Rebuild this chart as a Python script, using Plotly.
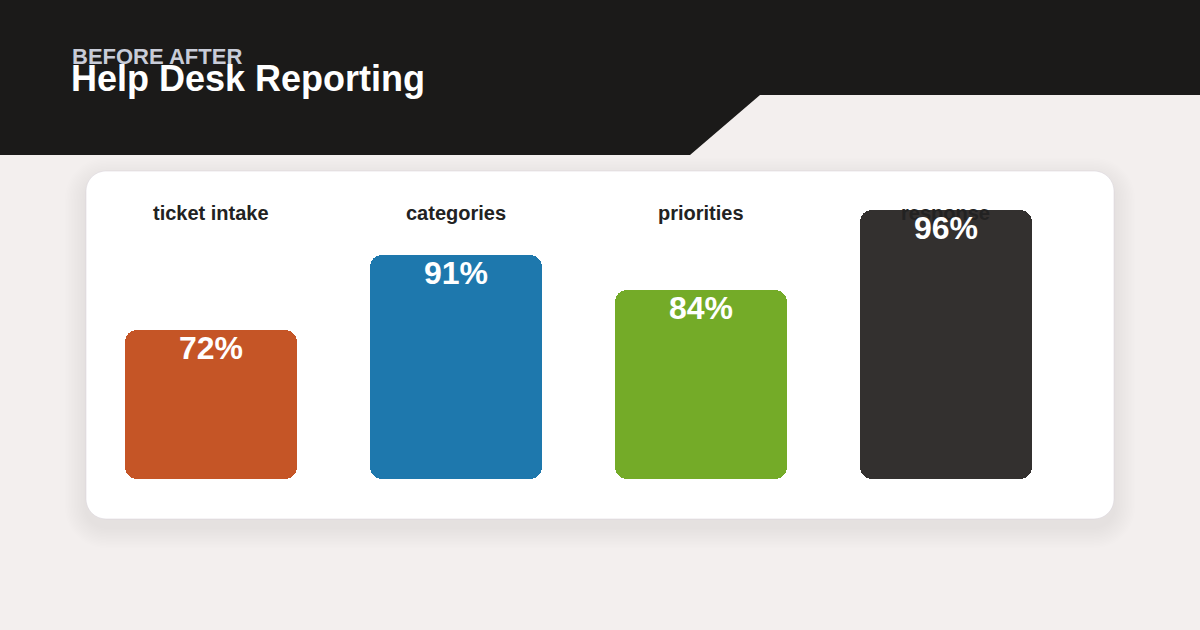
import plotly.graph_objects as go

# ---- data ----
categories = ["ticket intake", "categories", "priorities", "response"]
percent_labels = [72, 91, 84, 96]
bar_heights = [53.2, 80.0, 67.5, 96.0]   # bar heights (axis units 0-100)
bar_colors = ["#c55526", "#1e78ad", "#74ab28", "#33302f"]
subtitle = "BEFORE AFTER"
title = "Help Desk Reporting"

# ---- geometry ----
W, H = 1200, 630
L, PW = 88, 980
T, PH = 199, 280
R = W - L - PW
B = H - T - PH

def px(x):
    return (x - L) / PW

def py(y):
    return (H - B - y) / PH

def rrect_path(x0, y0, x1, y1, r):
    k = 0.4477 * r
    pts = [
        f"M {px(x0 + r)} {py(y0)}",
        f"L {px(x1 - r)} {py(y0)}",
        f"C {px(x1 - k)} {py(y0)} {px(x1)} {py(y0 + k)} {px(x1)} {py(y0 + r)}",
        f"L {px(x1)} {py(y1 - r)}",
        f"C {px(x1)} {py(y1 - k)} {px(x1 - k)} {py(y1)} {px(x1 - r)} {py(y1)}",
        f"L {px(x0 + r)} {py(y1)}",
        f"C {px(x0 + k)} {py(y1)} {px(x0)} {py(y1 - k)} {px(x0)} {py(y1 - r)}",
        f"L {px(x0)} {py(y0 + r)}",
        f"C {px(x0)} {py(y0 + k)} {px(x0 + k)} {py(y0)} {px(x0 + r)} {py(y0)}",
        "Z",
    ]
    return " ".join(pts)

FONT = "Liberation Sans, Arial, Helvetica, sans-serif"

fig = go.Figure()

fig.add_trace(go.Bar(
    x=categories, y=bar_heights, base=[0] * len(bar_heights),
    marker=dict(color=bar_colors, cornerradius=12, line=dict(width=0)),
    width=0.702, hoverinfo="skip", showlegend=False,
))

shapes = []
# header band
hdr = (f"M {px(-20)} {py(-20)} L {px(1220)} {py(-20)} L {px(1220)} {py(95)} "
       f"L {px(760)} {py(95)} L {px(690)} {py(155)} L {px(-20)} {py(155)} Z")
shapes.append(dict(type="path", path=hdr, xref="paper", yref="paper",
                   fillcolor="#1b1a19", line=dict(width=0), layer="below"))
# card shadow (soft, offset downward)
for i in range(14, 0, -1):
    e = i * 1.5
    shapes.append(dict(type="path",
                       path=rrect_path(86 - e, 171 - e + 8, 1114 + e, 519 + e + 8, 20 + e),
                       xref="paper", yref="paper",
                       fillcolor="rgba(110,95,120,0.008)", line=dict(width=0), layer="below"))
# card
shapes.append(dict(type="path", path=rrect_path(86, 171, 1114, 519, 20),
                   xref="paper", yref="paper", fillcolor="#ffffff",
                   line=dict(color="rgba(215,210,218,0.5)", width=1), layer="below"))

annotations = []
annotations.append(dict(text=f"<b>{subtitle}</b>", x=px(70), y=py(56), xref="paper", yref="paper",
                        xanchor="left", yanchor="middle", showarrow=False,
                        font=dict(family=FONT, size=22, color="#c8ccd8")))
annotations.append(dict(text=f"<b>{title}</b>", x=px(69), y=py(79), xref="paper", yref="paper",
                        xanchor="left", yanchor="middle", showarrow=False,
                        font=dict(family=FONT, size=36, color="#ffffff")))
for c in categories:
    annotations.append(dict(text=f"<b>{c}</b>", x=c, y=py(213), xref="x", yref="paper",
                            xanchor="center", yanchor="middle", showarrow=False,
                            font=dict(family=FONT, size=20, color="#222222")))
for c, v, h in zip(categories, percent_labels, bar_heights):
    annotations.append(dict(text=f"<b>{v}%</b>", x=c, y=h, xref="x", yref="y",
                            xanchor="center", yanchor="middle", yshift=-18, showarrow=False,
                            font=dict(family=FONT, size=32, color="#ffffff")))

fig.update_layout(
    width=W, height=H,
    margin=dict(l=L, r=R, t=T, b=B),
    paper_bgcolor="#f3efee",
    plot_bgcolor="rgba(0,0,0,0)",
    barmode="overlay",
    bargap=0,
    shapes=shapes,
    annotations=annotations,
    xaxis=dict(range=[-0.5, 3.5], visible=False, fixedrange=True),
    yaxis=dict(range=[0, 100], visible=False, fixedrange=True),
    showlegend=False,
)

fig.write_html(
    "out.html",
    config={"displayModeBar": False},
    post_script="document.body.style.margin='0';document.body.style.overflow='hidden';",
)
